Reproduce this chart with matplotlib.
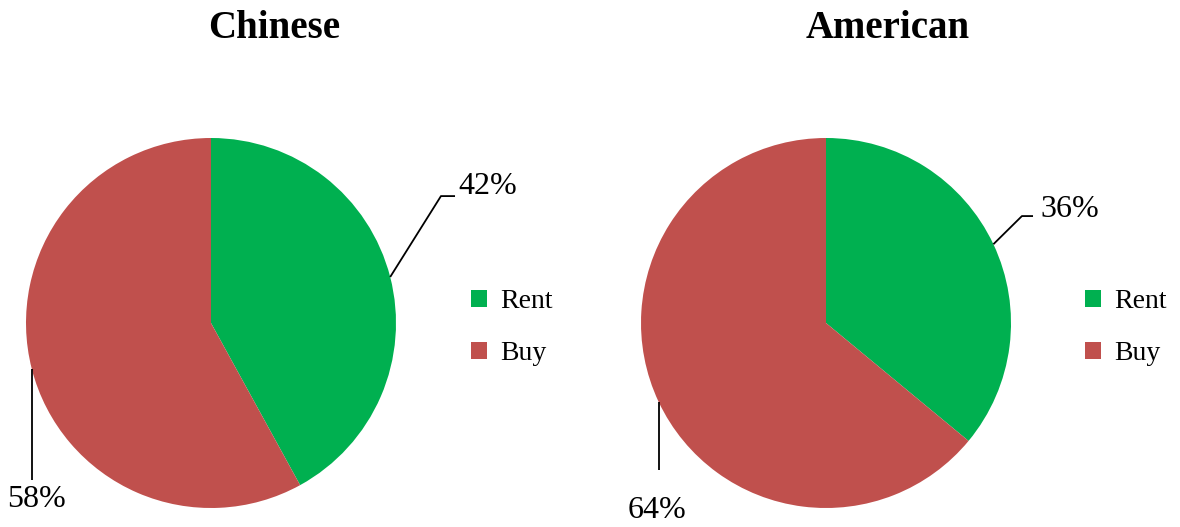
import numpy as np
import matplotlib.pyplot as plt

plt.rcParams['font.family'] = ['Liberation Serif', 'DejaVu Serif']

groups = ['Chinese', 'American']
labels = ['Rent', 'Buy']
rent = [42, 36]
buy = [58, 64]
colors = ['#00B050', '#C0504D']

W, H = 1180, 527
fig = plt.figure(figsize=(W / 100, H / 100), dpi=100)

# layout in pixels
centers = [211, 826]
cy, R = 323, 185
title_x = [274, 888]
legend_x = [471, 1085]

# leader layout in radius units: knee (or None), line end (x None = straight down), text pos, ha
leaders = [
    [((1.243, 0.686), (1.319, 0.686), (1.335, 0.74), 'left'),
     (None, (None, -0.849), (-0.941, -0.955), 'center')],
    [((1.059, 0.578), (1.119, 0.578), (1.157, 0.611), 'left'),
     (None, (None, -0.795), (-0.914, -1.016), 'center')],
]

for i, name in enumerate(groups):
    cx = centers[i]
    ax = fig.add_axes([(cx - R) / W, (H - cy - R) / H, 2 * R / W, 2 * R / H])
    vals = [rent[i], buy[i]]
    wedges, _ = ax.pie(vals, colors=colors, startangle=90, counterclock=False,
                       radius=1, wedgeprops=dict(linewidth=0))
    ax.set_xlim(-1, 1)
    ax.set_ylim(-1, 1)
    ax.axis('off')

    for w, v, (knee, end, tpos, ha) in zip(wedges, vals, leaders[i]):
        mid = np.deg2rad((w.theta1 + w.theta2) / 2)
        sx, sy = np.cos(mid), np.sin(mid)
        xs, ys = [sx], [sy]
        if knee is not None:
            xs.append(knee[0])
            ys.append(knee[1])
        xs.append(sx if end[0] is None else end[0])
        ys.append(end[1])
        ax.plot(xs, ys, color='black', lw=1.3, clip_on=False, solid_capstyle='butt')
        ax.text(tpos[0], tpos[1], f'{v}%', ha=ha, va='center', fontsize=23, clip_on=False)

    fig.text(title_x[i] / W, (H - 28) / H, name, ha='center', va='center',
             fontsize=28, fontweight='bold')

    fig.legend(wedges, labels, loc='center left',
               bbox_to_anchor=(legend_x[i] / W, (H - 327.5) / H),
               frameon=False, fontsize=20, handlelength=0.58, handleheight=0.58,
               handletextpad=0.47, labelspacing=0.97, borderpad=0, borderaxespad=0)

fig.savefig('out.png', dpi=100)
